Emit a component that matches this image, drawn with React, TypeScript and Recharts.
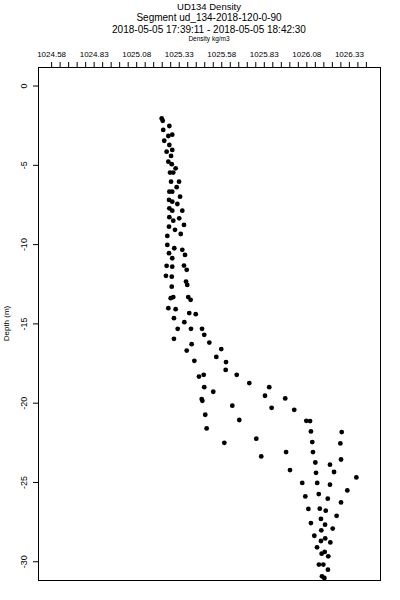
import React from 'react'
import { ScatterChart, Scatter, XAxis, YAxis } from 'recharts'

// density (kg/m3), paired with depth below
const density = [
  1025.227, 1025.233, 1025.272, 1025.236, 1025.289, 1025.266, 1025.242, 1025.272, 1025.289, 1025.256,
  1025.282, 1025.266, 1025.286, 1025.309, 1025.276, 1025.295, 1025.282, 1025.329, 1025.315, 1025.272,
  1025.289, 1025.335, 1025.270, 1025.289, 1025.319, 1025.272, 1025.289, 1025.348, 1025.272, 1025.330,
  1025.295, 1025.358, 1025.270, 1025.305, 1025.339, 1025.260, 1025.260, 1025.301, 1025.348, 1025.270,
  1025.364, 1025.289, 1025.256, 1025.289, 1025.358, 1025.374, 1025.252, 1025.286, 1025.370, 1025.377,
  1025.286, 1025.280, 1025.295, 1025.383, 1025.397, 1025.266, 1025.309, 1025.389, 1025.427, 1025.299,
  1025.360, 1025.321, 1025.399, 1025.464, 1025.477, 1025.299, 1025.507, 1025.403, 1025.374, 1025.577,
  1025.548, 1025.419, 1025.605, 1025.603, 1025.668, 1025.446, 1025.474, 1025.742, 1025.859, 1025.477,
  1025.530, 1025.834, 1025.953, 1025.462, 1025.466, 1025.642, 1025.873, 1026.006, 1025.483, 1025.683,
  1026.077, 1026.099, 1025.491, 1026.104, 1026.285, 1025.783, 1025.595, 1026.112, 1026.277, 1025.812,
  1025.958, 1026.116, 1026.281, 1026.130, 1026.216, 1025.981, 1026.134, 1026.240, 1026.371, 1026.053,
  1026.141, 1026.216, 1026.318, 1026.071, 1026.150, 1026.203, 1026.281, 1026.089, 1026.156, 1026.191,
  1026.255, 1026.163, 1026.104, 1026.187, 1026.232, 1026.165, 1026.124, 1026.188, 1026.163, 1026.218,
  1026.140, 1026.167, 1026.185, 1026.206, 1026.151, 1026.177, 1026.204, 1026.169, 1026.183,
]

const depth = [
  -2.04, -2.19, -2.52, -2.77, -3.07, -3.15, -3.45, -3.72, -4.03, -4.14,
  -4.41, -4.77, -4.93, -5.19, -5.46, -5.46, -6.03, -6.03, -6.38, -6.66,
  -6.66, -6.98, -7.18, -7.29, -7.44, -7.71, -7.86, -7.86, -8.27, -8.34,
  -8.49, -8.76, -8.87, -9.07, -9.33, -9.45, -10.02, -10.23, -10.33, -10.54,
  -10.65, -10.86, -11.34, -11.39, -11.32, -11.59, -11.97, -12.02, -12.33, -12.54,
  -12.65, -13.38, -13.31, -13.31, -13.48, -14.01, -14.07, -14.32, -14.39, -14.64,
  -14.89, -15.31, -15.31, -15.31, -15.69, -15.94, -16.18, -16.28, -16.68, -16.59,
  -17.08, -17.33, -17.41, -17.9, -18.21, -18.32, -18.21, -18.73, -18.99, -18.99,
  -19.28, -19.53, -19.7, -19.74, -19.85, -20.16, -20.29, -20.42, -20.73, -21.06,
  -21.11, -21.13, -21.59, -21.78, -21.82, -22.24, -22.5, -22.45, -22.54, -23.36,
  -23.08, -23.08, -23.55, -23.74, -23.88, -24.22, -24.39, -24.34, -24.68, -25.03,
  -25.03, -25.14, -25.5, -25.88, -25.73, -26.02, -26.26, -26.67, -26.65, -26.78,
  -27.1, -27.3, -27.56, -27.66, -27.91, -28.02, -28.36, -28.53, -28.69, -28.78,
  -29.09, -29.49, -29.38, -29.66, -30.18, -30.18, -30.5, -30.92, -31.02,
]

const xLabels = [1024.58, 1024.83, 1025.08, 1025.33, 1025.58, 1025.83, 1026.08, 1026.33]
const yTicks = [0, -5, -10, -15, -20, -25, -30]

// small ticks every 0.05 along the top axis
const minorTicks: number[] = []
for (let i = 0; i < 38; i++) minorTicks.push(Math.round((1024.58 + i * 0.05) * 100) / 100)

const data = density.map((d, i) => ({ density: d, depth: depth[i] }))

const FONT = '"Liberation Sans", Arial, sans-serif'

const TopTick = (props: any) => {
  const { x, y, payload } = props
  const isMajor = xLabels.some(v => Math.abs(v - payload.value) < 1e-6)
  return (
    <g>
      <line x1={x} x2={x} y1={y} y2={y - 5} stroke="#000" strokeWidth={1} />
      {isMajor && (
        <text x={x} y={y - 9.7} textAnchor="middle" fontSize={8} fontFamily={FONT} fill="#000">
          {payload.value.toFixed(2)}
        </text>
      )}
    </g>
  )
}

const LeftTick = (props: any) => {
  const { x, y, payload } = props
  return (
    <g>
      <line x1={x - 5} x2={x} y1={y} y2={y} stroke="#000" strokeWidth={1} />
      <text
        x={27}
        y={y}
        transform={`rotate(-90, 27, ${y})`}
        textAnchor="middle"
        fontSize={9}
        fontFamily={FONT}
        fill="#000"
      >
        {payload.value}
      </text>
    </g>
  )
}

const Dot = (props: any) => <circle cx={props.cx} cy={props.cy} r={2.4} fill="#000" />

export default function App() {
  return (
    <div style={{ position: 'absolute', left: 0, top: 0, width: 400, height: 600, background: '#fff' }}>
      <ScatterChart width={400} height={600} margin={{ top: 47, right: 20, bottom: 20, left: 0 }}>
        <XAxis
          type="number"
          dataKey="density"
          orientation="top"
          domain={[1024.5, 1026.51]}
          ticks={minorTicks}
          interval={0}
          height={20}
          tickSize={0}
          tickMargin={0}
          tickLine={false}
          axisLine={false}
          tick={<TopTick />}
          allowDataOverflow
        />
        <YAxis
          type="number"
          dataKey="depth"
          domain={[-31.15, 1.2]}
          ticks={yTicks}
          interval={0}
          width={38}
          tickSize={0}
          tickMargin={0}
          tickLine={false}
          axisLine={false}
          tick={<LeftTick />}
          allowDataOverflow
        />
        <Scatter data={data} fill="#000" shape={Dot} isAnimationActive={false} />
      </ScatterChart>

      <svg
        width={400}
        height={600}
        style={{ position: 'absolute', left: 0, top: 0, pointerEvents: 'none' }}
      >
        <rect x={38.5} y={67.5} width={342} height={513} fill="none" stroke="#000" strokeWidth={1} />
        <g fontFamily={FONT} fill="#000" textAnchor="middle">
          <text x={209} y={10} fontSize={9.5}>UD134 Density</text>
          <text x={209} y={21} fontSize={10}>Segment ud_134-2018-120-0-90</text>
          <text x={209} y={32.5} fontSize={10}>2018-05-05 17:39:11 - 2018-05-05 18:42:30</text>
          <text x={209} y={40.5} fontSize={6.5}>Density kg/m3</text>
          <text x={9} y={323.5} fontSize={8} transform="rotate(-90, 9, 323.5)">Depth (m)</text>
        </g>
      </svg>
    </div>
  )
}
